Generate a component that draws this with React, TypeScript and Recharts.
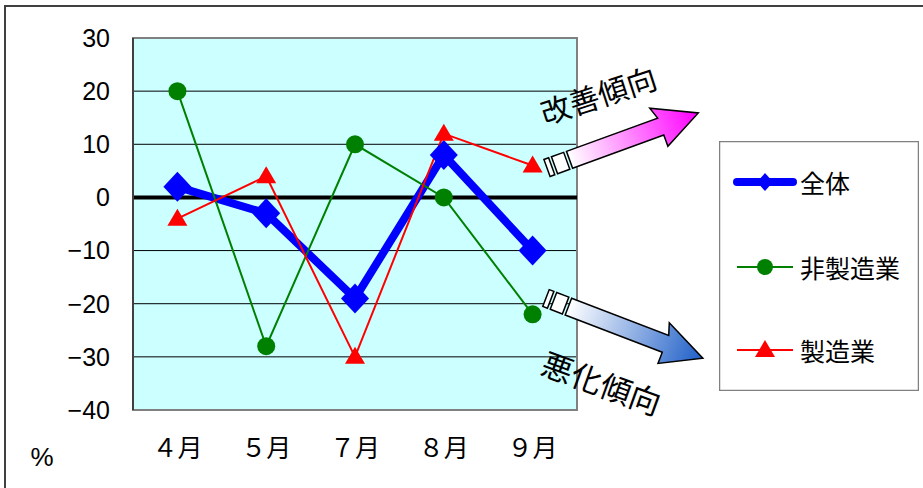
import React from 'react';
import { LineChart, Line, XAxis, YAxis, CartesianGrid, ReferenceLine, ReferenceArea, Legend } from 'recharts';

const months = ['４月', '５月', '７月', '８月', '９月'];
const zentai = [2, -3, -19, 8, -10];
const hiseizo = [20, -28, 10, 0, -22];
const seizo = [-4, 4, -30, 12, 6];
const yTicks = [-40, -30, -20, -10, 0, 10, 20, 30];
const seriesKeys = ['zentai', 'hiseizo', 'seizo'];
const seriesNames = { zentai: '全体', hiseizo: '非製造業', seizo: '製造業' };
const seriesColors = { zentai: '#0000FF', hiseizo: '#008000', seizo: '#FF0000' };
const unitLabel = '%';
const upLabel = '改善傾向';
const downLabel = '悪化傾向';

const data = months.map((m, i) => ({ month: m, zentai: zentai[i], hiseizo: hiseizo[i], seizo: seizo[i] }));

const JP = '"Noto Sans CJK JP", "Noto Sans", sans-serif';
const LAT = '"Liberation Sans", Arial, sans-serif';

const Diamond = (props: any) => {
  const { cx, cy } = props;
  if (cx == null || cy == null) return null;
  return <polygon points={`${cx},${cy - 15} ${cx + 14},${cy} ${cx},${cy + 15} ${cx - 14},${cy}`} fill={seriesColors.zentai} />;
};
const Dot = (props: any) => {
  const { cx, cy } = props;
  if (cx == null || cy == null) return null;
  return <circle cx={cx} cy={cy} r={9} fill={seriesColors.hiseizo} />;
};
const Tri = (props: any) => {
  const { cx, cy } = props;
  if (cx == null || cy == null) return null;
  return <polygon points={`${cx},${cy - 10} ${cx + 10},${cy + 7} ${cx - 10},${cy + 7}`} fill={seriesColors.seizo} />;
};

const legendMarker = (key: string, x: number, y: number) => {
  if (key === 'zentai') return <polygon points={`${x},${y - 9} ${x + 8},${y} ${x},${y + 9} ${x - 8},${y}`} fill={seriesColors.zentai} />;
  if (key === 'hiseizo') return <circle cx={x} cy={y} r={8} fill={seriesColors.hiseizo} />;
  return <polygon points={`${x},${y - 10} ${x + 10},${y + 7} ${x - 10},${y + 7}`} fill={seriesColors.seizo} />;
};

const LegendContent = (props: any) => {
  const payload = [...(props.payload || [])].sort(
    (a: any, b: any) => seriesKeys.indexOf(String(a.dataKey)) - seriesKeys.indexOf(String(b.dataKey))
  );
  const ys = [41, 126, 209];
  return (
    <svg width={200} height={250} style={{ display: 'block' }}>
      <rect x={0.5} y={0.5} width={199} height={249} fill="#fff" stroke="#808080" strokeWidth={1.5} />
      {payload.map((p: any, i: number) => {
        const key = String(p.dataKey);
        const y = ys[i];
        const w = key === 'zentai' ? 8 : 2;
        return (
          <g key={key}>
            <line x1={18} x2={74} y1={y} y2={y} stroke={p.color} strokeWidth={w} strokeLinecap={key === 'zentai' ? 'round' : 'butt'} />
            {legendMarker(key, 46, y)}
            <text x={81} y={y} dominantBaseline="central" fontSize={25} fontFamily={JP} fill="#000">{p.value}</text>
          </g>
        );
      })}
    </svg>
  );
};

const fmtY = (v: number) => (v < 0 ? '\u2212' + Math.abs(v) : String(v));

export default function App() {
  return (
    <div style={{ position: 'absolute', left: 0, top: 0, width: 923, height: 488, background: '#fff' }}>
      <LineChart width={923} height={488} data={data} margin={{ top: 38, right: 346, bottom: 38, left: 73 }}>
        <CartesianGrid horizontal={true} vertical={false} stroke="#000" strokeWidth={1} fill="#CCFFFF" fillOpacity={1} />
        <XAxis dataKey="month" scale="band" height={40} axisLine={false} tickLine={false} tickSize={0} tickMargin={29}
          tick={{ fontSize: 25, fill: '#000', fontFamily: JP }} interval={0} />
        <YAxis width={60} domain={[-40, 30]} ticks={yTicks} tickFormatter={fmtY} axisLine={{ stroke: '#404040', strokeWidth: 2 }} tickLine={false} tickSize={0} tickMargin={23}
          tick={{ fontSize: 25, fill: '#000', fontFamily: LAT }} interval={0} />
        <ReferenceArea y1={-40} y2={30} fill="none" stroke="#808080" strokeWidth={2} fillOpacity={0} />
        <ReferenceLine y={0} stroke="#000" strokeWidth={4} />
        <Legend layout="vertical" align="center" verticalAlign="middle" content={<LegendContent />}
          wrapperStyle={{ left: 719, top: 141, width: 200, height: 250 }} />
        <Line type="linear" dataKey="zentai" name={seriesNames.zentai} stroke={seriesColors.zentai} strokeWidth={8} dot={<Diamond />} activeDot={false} isAnimationActive={false} />
        <Line type="linear" dataKey="hiseizo" name={seriesNames.hiseizo} stroke={seriesColors.hiseizo} strokeWidth={2} dot={<Dot />} activeDot={false} isAnimationActive={false} />
        <Line type="linear" dataKey="seizo" name={seriesNames.seizo} stroke={seriesColors.seizo} strokeWidth={2} dot={<Tri />} activeDot={false} isAnimationActive={false} />
      </LineChart>
      <svg width={923} height={488} style={{ position: 'absolute', left: 0, top: 0, pointerEvents: 'none' }}>
        <defs>
          <linearGradient id="gUp" x1="0" y1="0" x2="1" y2="0">
            <stop offset="0" stopColor="#FFFFFF" />
            <stop offset="1" stopColor="#FF00FF" />
          </linearGradient>
          <linearGradient id="gDown" x1="0" y1="0" x2="1" y2="0">
            <stop offset="0" stopColor="#FFFFFF" />
            <stop offset="1" stopColor="#1F5FC8" />
          </linearGradient>
        </defs>
        <rect x={5} y={6} width={940} height={500} fill="none" stroke="#404040" strokeWidth={2} />
        <g transform="translate(547,168) rotate(-20)">
          <rect x={0} y={-9} width={5} height={18} fill="#fff" stroke="#000" strokeWidth={1.5} />
          <rect x={8} y={-9} width={13} height={18} fill="#fff" stroke="#000" strokeWidth={1.5} />
          <path d="M24,-9 H121 L117,-21 L161,0 L121,21 L121,9 H24 Z" fill="url(#gUp)" stroke="#000" strokeWidth={1.5} strokeLinejoin="miter" />
        </g>
        <g transform="translate(546,298) rotate(21)">
          <rect x={0} y={-9} width={5} height={18} fill="#fff" stroke="#000" strokeWidth={1.5} />
          <rect x={8} y={-9} width={13} height={18} fill="#fff" stroke="#000" strokeWidth={1.5} />
          <path d="M24,-9 H128 L124,-21 L168,0 L128,21 L128,9 H24 Z" fill="url(#gDown)" stroke="#000" strokeWidth={1.5} strokeLinejoin="miter" />
        </g>
        <text x={598} y={94} transform="rotate(-18 598 94)" textAnchor="middle" dominantBaseline="central" fontSize={30} fontFamily={JP} fill="#000">{upLabel}</text>
        <text x={602} y={382} transform="rotate(20 602 382)" textAnchor="middle" dominantBaseline="central" fontSize={31} fontFamily={JP} fill="#000">{downLabel}</text>
        <text x={42} y={457} textAnchor="middle" dominantBaseline="central" fontSize={26} fontFamily={LAT} fill="#000">{unitLabel}</text>
      </svg>
    </div>
  );
}
